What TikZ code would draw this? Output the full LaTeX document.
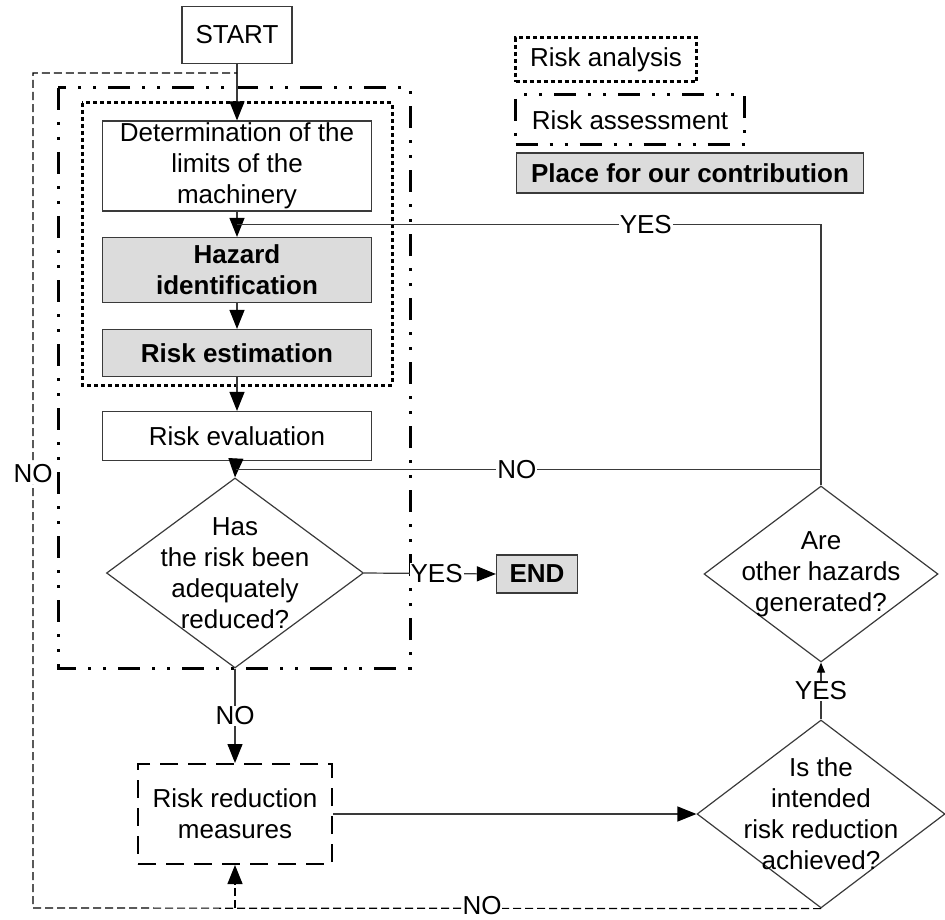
\documentclass[tikz,border=0pt]{standalone}
\usepackage{fontspec}
\setmainfont{Liberation Sans}
\usepackage{xcolor}
\usetikzlibrary{arrows.meta,calc,shapes.geometric}
\definecolor{ink}{HTML}{3A3A3A}
\definecolor{paleGray}{HTML}{DCDCDC}

\begin{document}
\begin{tikzpicture}[x=1pt,y=-1pt,>={Triangle[length=19pt,width=15pt,black]},
  every node/.style={font=\fontsize{26}{31}\selectfont},
  box/.style={draw=ink,line width=1.2pt,inner sep=0pt,align=center,minimum width=269pt},
  contrib/.style={box,fill=paleGray,font=\fontsize{26}{31}\selectfont\bfseries},
  decision/.style={diamond,draw=ink,line width=1.2pt,inner sep=0pt},
  qtext/.style={align=center,inner sep=0pt},
  conn/.style={draw=ink,line width=1.2pt},
  backline/.style={line width=1.2pt,dash pattern=on 8pt off 4pt},
  lbl/.style={fill=white,inner sep=1pt},
  analysisframe/.style={line width=3pt,dash pattern=on 4pt off 3pt},
  assessframe/.style={line width=3pt,dash pattern=on 22pt off 12pt on 3pt off 12pt on 3pt off 12pt},
  measurebox/.style={box,draw=black,line width=2pt,dash pattern=on 18pt off 10pt}]
  \useasboundingbox (0,0) rectangle (945,920);

  % group frames
  \draw[assessframe] (58,88) rectangle (410,668);
  \draw[analysisframe] (82,103) rectangle (392,385);

  % main column
  \node[box,minimum width=110pt,minimum height=57pt] (start) at (237,35) {START};
  \node[box,minimum height=90pt] (det) at (237,166) {Determination of the\\limits of the\\machinery};
  \node[contrib,minimum height=65pt] (haz) at (237,270) {Hazard\\identification};
  \node[contrib,minimum height=47pt] (est) at (237,353) {Risk estimation};
  \node[box,minimum height=49pt] (eval) at (237,436) {Risk evaluation};
  \node[decision,minimum width=257pt,minimum height=190pt] (d1) at (235,573) {};
  \node[qtext] (d1t) at (d1) {Has\\the risk been\\adequately\\reduced?};
  \node[contrib,minimum width=81pt,minimum height=38pt] (end) at (537,574) {END};
  \node[measurebox,minimum width=194pt,minimum height=100pt] (rr) at (235,814) {Risk reduction\\measures};

  % right column
  \node[decision,minimum width=248pt,minimum height=188pt] (d2) at (821,814) {};
  \node[qtext] (d2t) at (d2) {Is the\\intended\\risk reduction\\achieved?};
  \node[decision,minimum width=234pt,minimum height=176pt] (d3) at (821,574) {};
  \node[qtext] (d3t) at (d3) {Are\\other hazards\\generated?};

  % legend
  \node[box,draw=black,analysisframe,minimum width=181pt,minimum height=44pt] (legana) at (606,60) {Risk analysis};
  \node[box,draw=black,assessframe,minimum width=229pt,minimum height=50pt] (legass) at (630,120) {Risk assessment};
  \node[contrib,minimum width=347pt,minimum height=40pt] (legcon) at (690,173) {Place for our contribution};

  % connectors
  \draw[conn,->] (start) -- (det);
  \draw[conn,->] (det) -- (haz);
  \draw[conn,->] (haz) -- (est);
  \draw[conn,->] (est) -- (eval);
  \draw[conn,->] (eval) -- (d1.north);
  \draw[conn,->] (d1.east) -- (end.west) node[lbl,pos=0.55] {YES};
  \draw[conn,->] (d1.south) -- (rr.north) node[lbl,pos=0.5] {NO};
  \draw[conn,->] (rr.east) -- (d2.west);
  \draw[conn,->,>={Triangle[length=10pt,width=8pt,black]}] (d2.north) -- (d3.south) node[lbl,pos=0.5] {YES};

  \coordinate (yesj) at ($(det.south)!0.5!(haz.north)$);
  \coordinate (noj) at ($(eval.south)!0.5!(d1.north)$);
  \draw[conn] (d3.north) |- (noj) node[lbl,pos=0.76] {NO};
  \draw[conn] (d3.north) |- (yesj) node[lbl,pos=0.65] {YES};

  % dashed return path
  \coordinate (cnr1) at (33,908);
  \coordinate (cnr2) at (33,73);
  \coordinate (lj) at (start.south |- cnr2);
  \draw[backline] (d2.south) -- (cnr1) node[lbl,pos=0.43,yshift=3pt,inner sep=0pt] {NO}
    -- (cnr2) node[lbl,pos=0.52] {NO} -- (lj);
  \draw[backline,->] (rr.south |- cnr1) -- (rr.south);
\end{tikzpicture}
\end{document}
